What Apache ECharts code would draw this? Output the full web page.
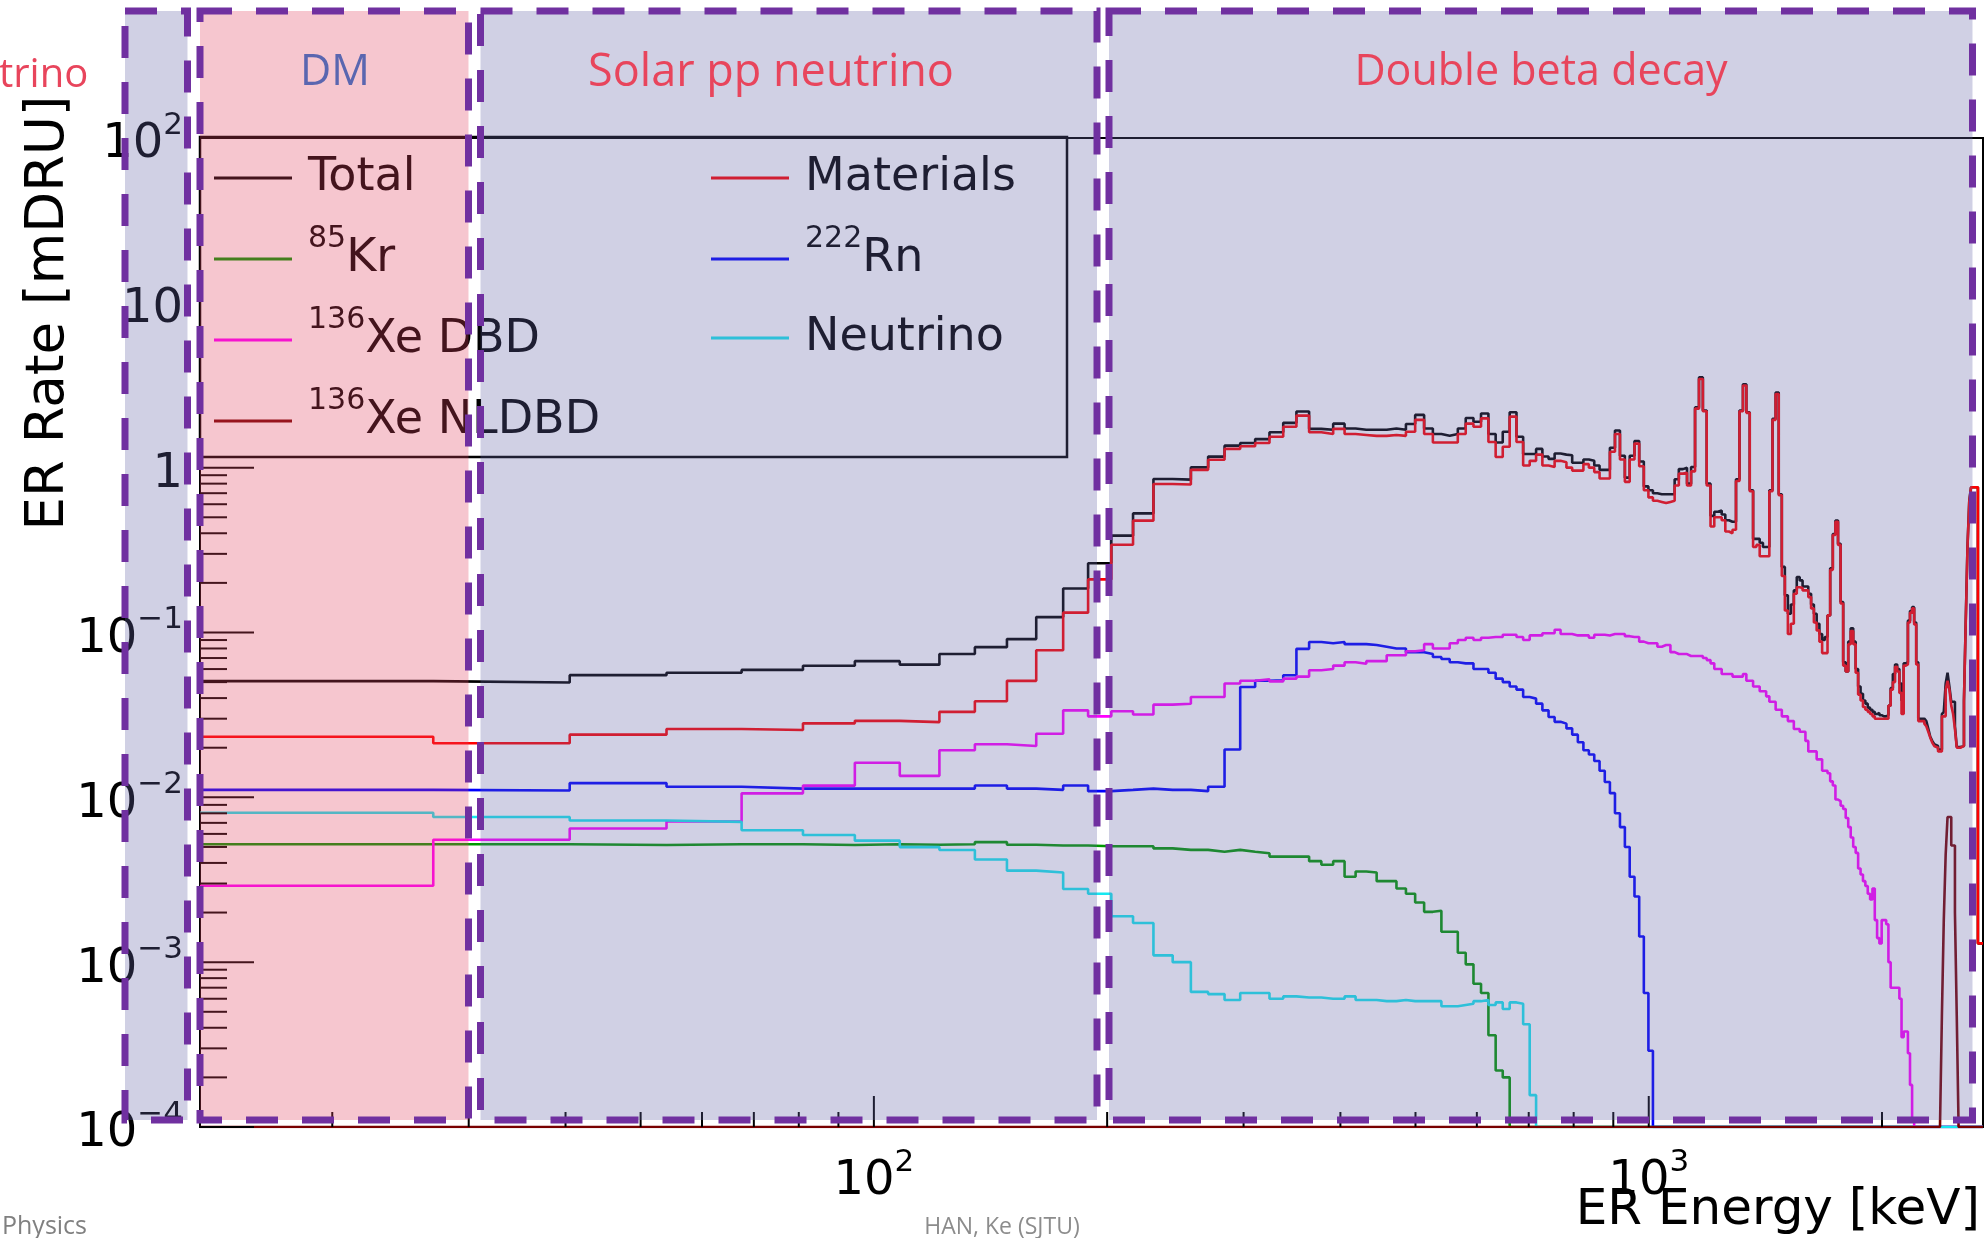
<!DOCTYPE html>
<html>
<head>
<meta charset="utf-8">
<script src="https://cdn.jsdelivr.net/npm/echarts@6/dist/echarts.min.js"></script>
<style>
html, body { margin: 0; padding: 0; background: #fff; }
#chart { width: 1985px; height: 1238px; }
</style>
</head>
<body>
<div id="chart"></div>
<script>
// ER background spectra, rate per 13.5 keV bin (mDRU), bins start at 13.5 keV.
// Bins past the end of an array are empty.
var binWidth = 13.5;
var nBins = 199;

var total = [
  0.0507, 0.0497, 0.0551, 0.057, 0.0593, 0.0629, 0.067, 0.0638, 0.074, 0.0815,
  0.0912, 0.124, 0.185, 0.263, 0.387, 0.528, 0.853, 0.846, 1.004, 1.167,
  1.36, 1.41, 1.49, 1.64, 1.87, 2.19, 1.72, 1.70, 1.85, 1.73,
  1.70, 1.70, 1.70, 1.73, 1.70, 1.84, 2.09, 1.73, 1.60, 1.56,
  1.60, 1.73, 2.00, 1.90, 2.13, 1.60, 1.42, 1.65, 2.17, 1.54,
  1.21, 1.21, 1.30, 1.17, 1.13, 1.22, 1.20, 1.19, 1.07, 1.07,
  1.12, 1.10, 1.03, 0.97, 0.97, 1.32, 1.68, 1.18, 0.87, 1.18,
  1.45, 1.09, 0.77, 0.73, 0.70, 0.69, 0.69, 0.69, 0.69, 0.85,
  0.98, 1.00, 0.80, 1.01, 2.32, 3.53, 2.22, 0.80, 0.51, 0.54,
  0.55, 0.52, 0.48, 0.47, 0.47, 0.85, 2.22, 3.21, 2.17, 0.73,
  0.37, 0.37, 0.35, 0.33, 0.33, 0.73, 1.98, 2.86, 0.69, 0.25,
  0.168, 0.13, 0.148, 0.18, 0.217, 0.207, 0.19, 0.19, 0.172, 0.148,
  0.13, 0.113, 0.098, 0.09, 0.094, 0.127, 0.245, 0.396, 0.478, 0.345,
  0.153, 0.066, 0.058, 0.088, 0.106, 0.088, 0.06, 0.047, 0.0425, 0.0387,
  0.037, 0.035, 0.034, 0.033, 0.032, 0.0325, 0.0315, 0.031, 0.031, 0.0315,
  0.036, 0.046, 0.056, 0.064, 0.06, 0.049, 0.0387, 0.065, 0.066, 0.118,
  0.135, 0.1425, 0.115, 0.066, 0.030, 0.030, 0.030, 0.030, 0.029, 0.026,
  0.0233, 0.022, 0.021, 0.0205, 0.0195, 0.0195, 0.032, 0.033, 0.049, 0.057,
  0.047, 0.038, 0.038, 0.027, 0.0202, 0.0202, 0.0202, 0.0205, 0.0387, 0.118,
  0.335, 0.63, 0.76, 0.76, 0.76, 0.76, 0.0013, 0.0013, 0.0013
];

var materials = [
  0.0233, 0.0213, 0.0240, 0.026, 0.0256, 0.0281, 0.0291, 0.0286, 0.033, 0.0383,
  0.0509, 0.078, 0.132, 0.21, 0.341, 0.477, 0.796, 0.79, 0.97, 1.118,
  1.30, 1.35, 1.41, 1.54, 1.77, 2.07, 1.64, 1.60, 1.72, 1.60,
  1.58, 1.56, 1.56, 1.58, 1.56, 1.65, 1.95, 1.60, 1.42, 1.42,
  1.42, 1.60, 1.85, 1.77, 1.99, 1.43, 1.16, 1.34, 2.04, 1.43,
  1.03, 1.10, 1.20, 1.03, 1.01, 1.10, 1.08, 1.00, 0.96, 0.96,
  1.05, 1.00, 0.94, 0.86, 0.86, 1.25, 1.60, 1.12, 0.82, 1.12,
  1.40, 1.02, 0.73, 0.66, 0.63, 0.62, 0.61, 0.62, 0.63, 0.78,
  0.92, 0.93, 0.78, 0.95, 2.28, 3.45, 2.20, 0.78, 0.44, 0.50,
  0.50, 0.48, 0.41, 0.40, 0.42, 0.83, 2.20, 3.15, 2.15, 0.72,
  0.33, 0.34, 0.29, 0.29, 0.29, 0.72, 1.95, 2.80, 0.68, 0.22,
  0.136, 0.098, 0.113, 0.172, 0.188, 0.186, 0.18, 0.18, 0.164, 0.14,
  0.115, 0.103, 0.088, 0.075, 0.075, 0.127, 0.24, 0.39, 0.47, 0.34,
  0.15, 0.063, 0.058, 0.085, 0.102, 0.085, 0.057, 0.042, 0.0387, 0.0353,
  0.034, 0.033, 0.032, 0.031, 0.030, 0.030, 0.030, 0.030, 0.030, 0.030,
  0.036, 0.045, 0.05, 0.062, 0.058, 0.043, 0.032, 0.063, 0.064, 0.115,
  0.132, 0.14, 0.112, 0.064, 0.029, 0.029, 0.029, 0.028, 0.027, 0.025,
  0.023, 0.0215, 0.0205, 0.02, 0.019, 0.019, 0.031, 0.031, 0.045, 0.051,
  0.045, 0.036, 0.032, 0.026, 0.02, 0.02, 0.02, 0.0205, 0.038, 0.115,
  0.33, 0.62, 0.76, 0.76, 0.76, 0.76, 0.0013, 0.0013, 0.0013
];

var kr85 = [
  0.00519, 0.00519, 0.00514, 0.00519, 0.00519, 0.00514, 0.00519, 0.00516, 0.00519, 0.00535,
  0.00516, 0.0051, 0.0051, 0.00505, 0.00505, 0.00505, 0.0049, 0.0048, 0.0048, 0.00468,
  0.0048, 0.00468, 0.00458, 0.00437, 0.00437, 0.00437, 0.0041, 0.0039, 0.0041, 0.0033,
  0.00355, 0.0035, 0.0031, 0.0031, 0.0028, 0.0026, 0.0023, 0.00202, 0.00205, 0.00153,
  0.00153, 0.00114, 0.00097, 0.00074, 0.00065, 0.00036, 0.00022, 0.0002
];

var rn222 = [
  0.0111, 0.0110, 0.0122, 0.0116, 0.0113, 0.0113, 0.0113, 0.0113, 0.0113, 0.0118,
  0.0113, 0.0111, 0.0118, 0.0109, 0.0111, 0.0113, 0.0111, 0.0111, 0.0109, 0.0116,
  0.0195, 0.0467, 0.051, 0.0512, 0.055, 0.0796, 0.0875, 0.086, 0.0875, 0.085,
  0.085, 0.084, 0.082, 0.08, 0.08, 0.076, 0.076, 0.074, 0.071, 0.069,
  0.066, 0.065, 0.065, 0.06, 0.06, 0.057, 0.0525, 0.05, 0.047, 0.045,
  0.0406, 0.0397, 0.037, 0.0337, 0.0307, 0.0287, 0.028, 0.0262, 0.024, 0.0216,
  0.0193, 0.0182, 0.0166, 0.0145, 0.0124, 0.0106, 0.008, 0.0066, 0.005, 0.0033,
  0.0025, 0.00143, 0.00065, 0.00029
];

var xe136DBD = [
  0.00291, 0.00553, 0.00647, 0.00714, 0.01057, 0.01178, 0.0162, 0.0135, 0.0193, 0.021,
  0.0205, 0.0243, 0.0337, 0.031, 0.0333, 0.0318, 0.0365, 0.037, 0.0406, 0.0406,
  0.049, 0.051, 0.052, 0.0505, 0.0525, 0.054, 0.059, 0.060, 0.063, 0.066,
  0.0646, 0.067, 0.067, 0.0727, 0.0727, 0.077, 0.078, 0.085, 0.08, 0.08,
  0.086, 0.09, 0.093, 0.09, 0.093, 0.094, 0.094, 0.097, 0.097, 0.094,
  0.09, 0.096, 0.096, 0.099, 0.099, 0.104, 0.098, 0.098, 0.096, 0.096,
  0.096, 0.093, 0.097, 0.097, 0.096, 0.098, 0.098, 0.098, 0.095, 0.094,
  0.094, 0.088, 0.086, 0.086, 0.086, 0.082, 0.084, 0.084, 0.076, 0.074,
  0.074, 0.074, 0.072, 0.072, 0.072, 0.072, 0.070, 0.068, 0.065, 0.060,
  0.060, 0.056, 0.056, 0.056, 0.054, 0.054, 0.054, 0.056, 0.051, 0.051,
  0.047, 0.047, 0.044, 0.044, 0.041, 0.038, 0.038, 0.034, 0.034, 0.031,
  0.031, 0.029, 0.029, 0.026, 0.026, 0.025, 0.025, 0.022, 0.019, 0.019,
  0.019, 0.017, 0.017, 0.0145, 0.0145, 0.014, 0.0125, 0.0118, 0.0097, 0.0095,
  0.0089, 0.0085, 0.0075, 0.0066, 0.0057, 0.0050, 0.0046, 0.0037, 0.0034, 0.0031,
  0.0029, 0.0026, 0.0024, 0.0028, 0.0018, 0.0014, 0.0013, 0.0018, 0.0018, 0.0017,
  0.0010, 0.0007, 0.0007, 0.0007, 0.0007, 0.0006, 0.00035, 0.00038, 0.00038, 0.00028,
  0.00018, 0.00011
];

var neutrino = [
  0.00807, 0.0076, 0.00723, 0.0071, 0.00632, 0.00591, 0.00546, 0.00499, 0.00479, 0.0042,
  0.00359, 0.0035, 0.00278, 0.0026, 0.0019, 0.00173, 0.0011, 0.001, 0.00066, 0.00064,
  0.00059, 0.00065, 0.00065, 0.0006, 0.00062, 0.00061, 0.00061, 0.0006, 0.0006, 0.00062,
  0.00059, 0.00059, 0.00058, 0.00058, 0.00059, 0.00058, 0.00058, 0.00058, 0.00058, 0.00054,
  0.00054, 0.00055, 0.00056, 0.00058, 0.00059, 0.00055, 0.00057, 0.00052, 0.00057, 0.00056,
  0.00042, 0.000156
];

var xe136NLDBD = [
  0, 0, 0, 0, 0, 0, 0, 0, 0, 0, 0, 0, 0, 0, 0, 0, 0, 0, 0, 0,
  0, 0, 0, 0, 0, 0, 0, 0, 0, 0, 0, 0, 0, 0, 0, 0, 0, 0, 0, 0,
  0, 0, 0, 0, 0, 0, 0, 0, 0, 0, 0, 0, 0, 0, 0, 0, 0, 0, 0, 0,
  0, 0, 0, 0, 0, 0, 0, 0, 0, 0, 0, 0, 0, 0, 0, 0, 0, 0, 0, 0,
  0, 0, 0, 0, 0, 0, 0, 0, 0, 0, 0, 0, 0, 0, 0, 0, 0, 0, 0, 0,
  0, 0, 0, 0, 0, 0, 0, 0, 0, 0, 0, 0, 0, 0, 0, 0, 0, 0, 0, 0,
  0, 0, 0, 0, 0, 0, 0, 0, 0, 0, 0, 0, 0, 0, 0, 0, 0, 0, 0, 0,
  0, 0, 0, 0, 0, 0, 0, 0, 0, 0, 0, 0, 0, 0, 0, 0, 0, 0, 0, 0,
  0, 0, 0, 0, 0, 0, 0, 0, 0, 0, 0, 0, 0, 0, 0, 0,
  0.00047, 0.0018, 0.0045, 0.0076, 0.0076, 0.0051, 0.0051, 0.002, 0.00047
];

// ROOT-style inside ticks
var xTickValues = [20, 30, 40, 50, 60, 70, 80, 90, 100, 200, 300, 400, 500, 600, 700, 800, 900, 1000, 2000];
var yTickValues = [
  0.0001, 0.0002, 0.0003, 0.0004, 0.0005, 0.0006, 0.0007, 0.0008, 0.0009,
  0.001, 0.002, 0.003, 0.004, 0.005, 0.006, 0.007, 0.008, 0.009,
  0.01, 0.02, 0.03, 0.04, 0.05, 0.06, 0.07, 0.08, 0.09,
  0.1, 0.2, 0.3, 0.4, 0.5, 0.6, 0.7, 0.8, 0.9, 1
];

var xMin = 13.5, xMax = 2700, yMin = 1e-4, yMax = 1e2;

function isPow10(v) {
  var l = Math.log10(v);
  return Math.abs(l - Math.round(l)) < 1e-6;
}

function histLine(values) {
  var pts = [];
  for (var i = 0; i < nBins; i++) {
    var v = i < values.length ? values[i] : 0;
    pts.push([binWidth * (i + 1), Math.max(v, yMin)]);
  }
  pts.push([binWidth * (nBins + 1), pts[nBins - 1][1]]);
  return pts;
}

function powLabel(v) {
  if (!isPow10(v)) return '';
  var n = Math.round(Math.log10(v));
  if (n === 0) return '{b|1}';
  if (n === 1) return '{b|10}';
  return '{b|10}{s|' + (n < 0 ? '\u2212' + (-n) : n) + '}';
}

var rootFont = 'DejaVu Sans';
var powRich = {
  b: { fontFamily: rootFont, fontSize: 48, color: '#000', lineHeight: 70, verticalAlign: 'middle' },
  s: { fontFamily: rootFont, fontSize: 31, color: '#000', lineHeight: 31, verticalAlign: 'top' }
};
var legendRich = {
  b: { fontFamily: rootFont, fontSize: 46, color: '#000', lineHeight: 70, verticalAlign: 'middle' },
  s: { fontFamily: rootFont, fontSize: 30, color: '#000', lineHeight: 30, verticalAlign: 'top' }
};
var legendNames = {
  'Total': '{b|Total}',
  'Materials': '{b|Materials}',
  '85Kr': '{s|85}{b|Kr}',
  '222Rn': '{s|222}{b|Rn}',
  '136Xe DBD': '{s|136}{b|Xe DBD}',
  'Neutrino': '{b|Neutrino}',
  '136Xe NLDBD': '{s|136}{b|Xe NLDBD}'
};

function lineSeries(name, values, color) {
  return {
    name: name, type: 'line', step: 'end', data: histLine(values),
    showSymbol: false, symbol: 'none', color: color,
    lineStyle: { color: color, width: 2.6 }, itemStyle: { color: color },
    silent: true, z: 2
  };
}

var lavender = 'rgba(98,98,165,0.3)';
var pink = 'rgba(225,65,95,0.3)';
var boxStyle = { stroke: '#7030a0', lineWidth: 7, lineDash: [32, 24] };
var boxes = [
  [125, 187.5, lavender],
  [200, 468.5, pink],
  [480.5, 1097, lavender],
  [1109, 1972.5, lavender]
];

var graphics = [
  { type: 'rect', z: 5, silent: true, shape: { x: 200, y: 137, width: 867, height: 320 },
    style: { fill: 'none', stroke: '#000', lineWidth: 2.5 } }
];
boxes.forEach(function (b) {
  graphics.push({
    type: 'rect', z: 50, silent: true,
    shape: { x: b[0], y: 11, width: b[1] - b[0], height: 1109 },
    style: { fill: b[2], stroke: boxStyle.stroke, lineWidth: boxStyle.lineWidth, lineDash: boxStyle.lineDash }
  });
});
function txt(text, x, y, font, color, align, rot) {
  return {
    type: 'text', z: 60, silent: true, x: x, y: y, rotation: rot || 0,
    style: { text: text, font: font, fill: color, textAlign: align, textVerticalAlign: 'middle',
             align: align, verticalAlign: 'middle' }
  };
}
var slideRed = '#e8455c';
graphics.push(txt('trino', -1, 76, '40px "Open Sans"', slideRed, 'left'));
graphics.push(txt('DM', 335, 73, '43px "Open Sans"', '#5a66b0', 'center'));
graphics.push(txt('Solar pp neutrino', 771, 73, '45px "Open Sans"', slideRed, 'center'));
graphics.push(txt('Double beta decay', 1541, 73, '43px "Open Sans"', slideRed, 'center'));
graphics.push(txt('ER Rate [mDRU]', 49, 313, '53px "DejaVu Sans"', '#000', 'center', Math.PI / 2));
graphics.push(txt('ER Energy [keV]', 1980, 1211, '50px "DejaVu Sans"', '#000', 'right'));
graphics.push(txt('Physics', 2, 1227, '25px "Open Sans"', '#808080', 'left'));
graphics.push(txt('HAN, Ke (SJTU)', 1002, 1227, '23px "Open Sans"', '#8c8c8c', 'center'));

var legendBase = {
  orient: 'vertical', top: 155, itemGap: 23, itemWidth: 78, itemHeight: 3,
  icon: 'rect', padding: 0, selectedMode: false, z: 4,
  formatter: function (name) { return legendNames[name]; },
  textStyle: { rich: legendRich, padding: [0, 0, 0, 11] }
};

var option = {
  animation: false,
  backgroundColor: '#fff',
  grid: { left: 200, right: 2, top: 138, bottom: 111, show: true, borderColor: '#000', borderWidth: 2, backgroundColor: 'transparent' },
  xAxis: {
    type: 'log', logBase: 10, min: xMin, max: xMax,
    axisLine: { show: false }, axisTick: { show: false }, splitLine: { show: false },
    axisLabel: { margin: 20, formatter: powLabel, rich: powRich, showMinLabel: false, showMaxLabel: false }
  },
  yAxis: {
    type: 'log', logBase: 10, min: yMin, max: yMax,
    axisLine: { show: false }, axisTick: { show: false }, splitLine: { show: false },
    axisLabel: { margin: 17, formatter: powLabel, rich: powRich, padding: [14, 0, 0, 0] }
  },
  legend: [
    Object.assign({}, legendBase, { left: 214, data: ['Total', '85Kr', '136Xe DBD', '136Xe NLDBD'] }),
    Object.assign({}, legendBase, { left: 711, data: ['Materials', '222Rn'] }),
    Object.assign({}, legendBase, { left: 711, top: 315, data: ['Neutrino'] })
  ],
  graphic: { elements: graphics },
  series: [
    lineSeries('Total', total, '#000000'),
    lineSeries('Materials', materials, '#ff0000'),
    lineSeries('85Kr', kr85, '#009900'),
    lineSeries('222Rn', rn222, '#0000ff'),
    lineSeries('136Xe DBD', xe136DBD, '#ff00ff'),
    lineSeries('Neutrino', neutrino, '#17e8f0'),
    lineSeries('136Xe NLDBD', xe136NLDBD, '#780000'),
    {
      type: 'custom', silent: true, clip: false, z: 3,
      data: yTickValues.map(function (v) { return [xMin, v, isPow10(v) ? 1 : 0]; }),
      encode: { x: 0, y: 1 },
      renderItem: function (params, api) {
        var p = api.coord([api.value(0), api.value(1)]);
        var len = api.value(2) ? 54 : 27;
        return { type: 'line', shape: { x1: p[0], y1: p[1], x2: p[0] + len, y2: p[1] },
                 style: { stroke: '#000', lineWidth: 2 } };
      }
    },
    {
      type: 'custom', silent: true, clip: false, z: 3,
      data: xTickValues.map(function (v) { return [v, yMin, isPow10(v) ? 1 : 0]; }),
      encode: { x: 0, y: 1 },
      renderItem: function (params, api) {
        var p = api.coord([api.value(0), api.value(1)]);
        var len = api.value(2) ? 31 : 15;
        return { type: 'line', shape: { x1: p[0], y1: p[1], x2: p[0], y2: p[1] - len },
                 style: { stroke: '#000', lineWidth: 2 } };
      }
    }
  ]
};

var chart = echarts.init(document.getElementById('chart'));
chart.setOption(option);
</script>
</body>
</html>
